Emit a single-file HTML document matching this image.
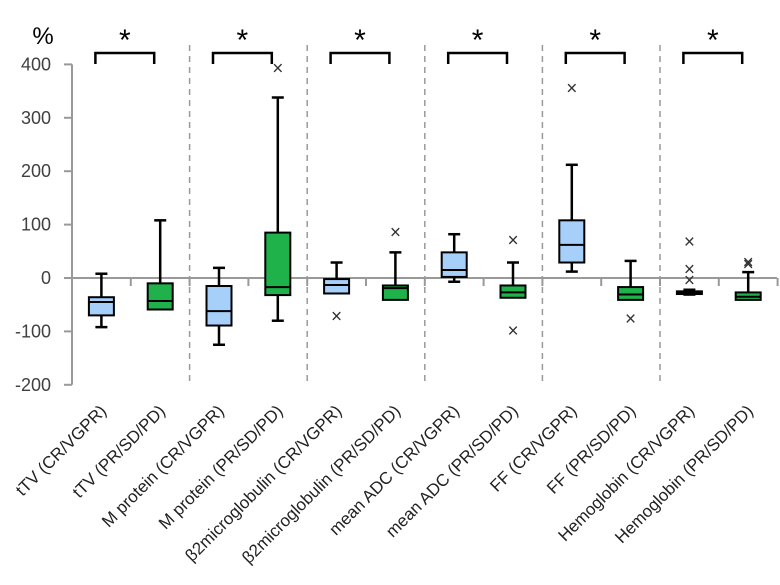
<!DOCTYPE html>
<html><head><meta charset="utf-8"><style>
html,body{margin:0;padding:0;background:#fff;}
svg{display:block;font-family:"Liberation Sans",sans-serif;}
</style></head><body>
<svg id="chart" width="780" height="585"></svg>
<script>
const categories=["tTV (CR/VGPR)","tTV (PR/SD/PD)","M protein (CR/VGPR)","M protein (PR/SD/PD)","β2microglobulin  (CR/VGPR)","β2microglobulin  (PR/SD/PD)","mean ADC (CR/VGPR)","mean ADC (PR/SD/PD)","FF (CR/VGPR)","FF (PR/SD/PD)","Hemoglobin (CR/VGPR)","Hemoglobin (PR/SD/PD)"];
const mins=[-92,-59,-125,-80,-29,-41,-7,-37,12,-41,-31,-41];
const q1s=[-70,-59,-89,-32,-29,-41,2,-37,29,-41,-30,-41];
const medians=[-45,-43,-62,-17,-13,-19,15,-27,62,-31,-28,-35];
const q3s=[-36,-10,-15,85,-2,-14,48,-14,108,-17,-25,-27];
const maxs=[8,108,19,338,29,48,82,29,212,32,-22,11];
const outliers=[[],[],[],[392],[-72],[85],[],[70,-99],[355],[-77],[67,16,-5],[29,25]];
const yTicks=[400,300,200,100,0,-100,-200];
const groupLabels=["*","*","*","*","*","*"];

const svg=document.getElementById('chart');
const NS='http://www.w3.org/2000/svg';
const x0=72,cw=58.8;
const yv=v=>278-v*0.534;
const xc=i=>x0+cw*(i+0.5);
function mk(t,a,p){const e=document.createElementNS(NS,t);for(const k in a)e.setAttribute(k,a[k]);(p||svg).appendChild(e);return e;}

let ax=mk('line',{x1:x0,y1:yv(400),x2:x0,y2:yv(-200),stroke:'#999','stroke-width':2});


yTicks.forEach(t=>{
  let tk=mk('line',{x1:x0-8,y1:yv(t),x2:x0,y2:yv(t),stroke:'#999','stroke-width':2});
  
  
  let tl=mk('text',{x:51,y:yv(t)+6,'text-anchor':'end','font-size':18,fill:'#404040'});
  tl.textContent=t;
  
  
});
let pct=mk('text',{x:43,y:44,'text-anchor':'middle','font-size':24,fill:'#000'});
pct.textContent='%';



for(let i=1;i<=12;i++){
  const x=x0+cw*i;
  if(i%2===0&&i<12){
    let d=mk('line',{x1:x,y1:45,x2:x,y2:385,stroke:'#999','stroke-width':1.5,'stroke-dasharray':'6,5'});
    
    
  }
  let tk=mk('line',{x1:x,y1:yv(0),x2:x,y2:yv(0)+8,stroke:'#999','stroke-width':2});
  
  
}
let zl=mk('line',{x1:x0,y1:yv(0),x2:777,y2:yv(0),stroke:'#999','stroke-width':2});



const bw=25;
categories.forEach((c,i)=>{
  const x=xc(i),fill=i%2===0?'#a6d0fa':'#1fb24a';
  const g=mk('g',{});
  
  
  if(maxs[i]>q3s[i]){mk('line',{x1:x,y1:yv(maxs[i]),x2:x,y2:yv(q3s[i]),stroke:'#000','stroke-width':2.5},g);
    mk('line',{x1:x-6,y1:yv(maxs[i]),x2:x+6,y2:yv(maxs[i]),stroke:'#000','stroke-width':2.5},g);}
  if(mins[i]<q1s[i]){mk('line',{x1:x,y1:yv(mins[i]),x2:x,y2:yv(q1s[i]),stroke:'#000','stroke-width':2.5},g);
    mk('line',{x1:x-6,y1:yv(mins[i]),x2:x+6,y2:yv(mins[i]),stroke:'#000','stroke-width':2.5},g);}
  mk('rect',{x:x-bw/2,y:yv(q3s[i]),width:bw,height:Math.max(2,yv(q1s[i])-yv(q3s[i])),fill:fill,stroke:'#000','stroke-width':2},g);
  mk('line',{x1:x-bw/2,y1:yv(medians[i]),x2:x+bw/2,y2:yv(medians[i]),stroke:'#000','stroke-width':2},g);
  outliers[i].forEach(o=>{
    const y=yv(o);
    let t=mk('text',{x:x,y:y+6,'text-anchor':'middle','font-size':19,fill:'#333'},g);
    t.textContent='×';
    
    
  });
  const lx=x+6,ly=412;
  let lb=mk('text',{x:lx,y:ly,'text-anchor':'end','font-size':17,fill:'#222',transform:`rotate(-45 ${lx} ${ly})`});
  lb.textContent=c;
  
  
});

groupLabels.forEach((s,gi)=>{
  const a=xc(gi*2)-6,b=xc(gi*2+1)-6;
  let br=mk('path',{d:`M${a},64 V53 H${b} V64`,fill:'none',stroke:'#000','stroke-width':2.5});
  
  
  let st=mk('text',{x:(a+b)/2,y:50,'text-anchor':'middle','font-size':30,fill:'#000'});
  st.textContent=s;
  
  
});
</script>
</body></html>
